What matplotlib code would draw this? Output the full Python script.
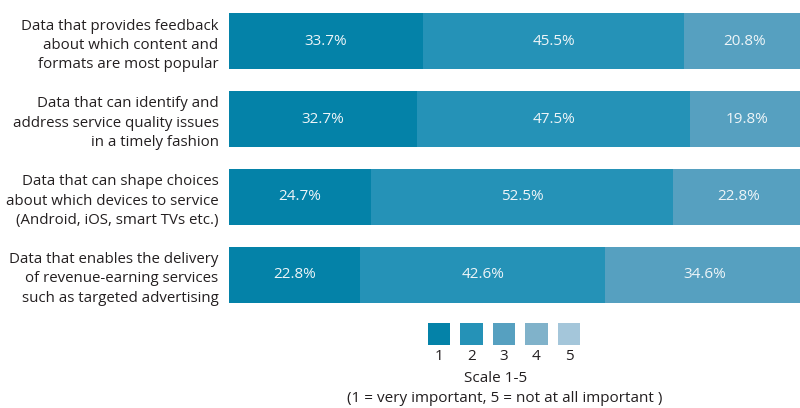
import matplotlib.pyplot as plt

plt.rcParams['font.family'] = ['Open Sans', 'DejaVu Sans']

categories = [
    "Data that provides feedback\nabout which content and\nformats are most popular",
    "Data that can identify and\naddress service quality issues\nin a timely fashion",
    "Data that can shape choices\nabout which devices to service\n(Android, iOS, smart TVs etc.)",
    "Data that enables the delivery\nof revenue-earning services\nsuch as targeted advertising",
]
score_1 = [33.7, 32.7, 24.7, 22.8]
score_2 = [45.5, 47.5, 52.5, 42.6]
score_3 = [20.8, 19.8, 22.8, 34.6]
scale_labels = ["1", "2", "3", "4", "5"]

colors = ["#0482a8", "#2592b7", "#56a0c0", "#80b2ca", "#a4c6da"]
text_color = "#231f20"

W, H = 800, 408
fig = plt.figure(figsize=(W / 100, H / 100), dpi=100)

# main stacked bars (axes runs slightly past the right edge)
ax = fig.add_axes([229 / W, 1 - 303 / H, 575 / W, 290 / H])
ypos = list(range(len(categories)))
left = [0] * len(categories)
for series, col in zip([score_1, score_2, score_3], colors):
    ax.barh(ypos, series, left=left, height=0.72, color=col, linewidth=0)
    for y, l, v in zip(ypos, left, series):
        ax.text(l + v / 2, y, f"{v}%", ha="center", va="center",
                color="#eef5f8", fontsize=11)
    left = [a + b for a, b in zip(left, series)]

ax.set_xlim(0, 100)
ax.set_ylim(3.36, -0.36)
ax.set_yticks(ypos)
ax.set_yticklabels(categories, fontsize=10.8, color=text_color, linespacing=1.37)
ax.tick_params(axis="y", length=0, pad=7.5)
ax.set_xticks([])
for s in ax.spines.values():
    s.set_visible(False)

# scale legend
lax = fig.add_axes([422.75 / W, 1 - 345 / H, 162.5 / W, 22 / H])
lax.bar(range(5), [1] * 5, width=0.68, color=colors, linewidth=0, align="center")
for i, lab in enumerate(scale_labels):
    lax.text(i, -0.5, lab, ha="center", va="center", fontsize=11, color=text_color)
lax.set_xlim(-0.5, 4.5)
lax.set_ylim(0, 1)
lax.axis("off")

fig.text(496 / W, 1 - 379 / H, "Scale 1-5", ha="center", va="center",
         fontsize=11, color=text_color)
fig.text(505 / W, 1 - 399 / H, "(1 = very important, 5 = not at all important )",
         ha="center", va="center", fontsize=11, color=text_color)

fig.savefig("out.png", dpi=100)
